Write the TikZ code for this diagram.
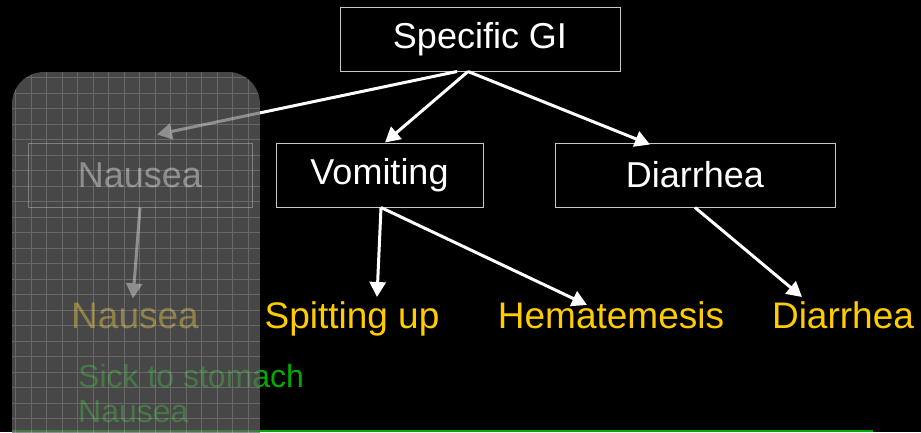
\documentclass[tikz,border=0pt]{standalone}
\usepackage{fontspec}
\setmainfont{Liberation Sans}
\usetikzlibrary{arrows.meta,calc}
\definecolor{leafyellow}{HTML}{FFCC00}
\definecolor{sickgreen}{HTML}{00AA00}
\definecolor{boxline}{HTML}{C8C8C8}
\begin{document}
\begin{tikzpicture}[x=1pt,y=-1pt,
  catbox/.style={draw=boxline,line width=1pt,fill=black,text=white,minimum height=64pt,inner sep=0pt,font=\fontsize{36}{40}\selectfont},
  leaf/.style={text=leafyellow,anchor=base,inner sep=2pt,font=\fontsize{37}{40}\selectfont},
  sick/.style={text=sickgreen,anchor=base west,inner sep=0pt,font=\fontsize{32}{36}\selectfont},
  conn/.style={draw=white,line width=3pt,-{Triangle[length=15pt,width=16pt]}}]
\fill[black] (0,0) rectangle (921,432);
\useasboundingbox (0,0) rectangle (921,432);
% boxes
\node[catbox,minimum width=280pt] (gi) at (480,39) {Specific GI};
\node[catbox,minimum width=224pt] (nau) at (140,175) {Nausea};
\node[catbox,minimum width=207pt] (vom) at (379.5,175) {Vomiting};
\node[catbox,minimum width=280pt] (dia) at (695,175) {Diarrhea};
% leaves
\node[leaf] (ln) at (135,328) {Nausea};
\node[leaf] (ls) at (352,328) {Spitting up};
\node[leaf] (lh) at (611,328) {Hematemesis};
\node[leaf] (ld) at (843,328) {Diarrhea};
\node[sick] (s1) at (78,387) {Sick to stomach};
\node[sick] (s2) at (78,422) {Nausea};
% connectors
\draw[conn] ([xshift=-23pt]gi.south) -- ([xshift=17pt,yshift=8pt]nau.north);
\draw[conn] ([xshift=-12pt]gi.south) -- ([xshift=5.5pt]vom.north);
\draw[conn] ([xshift=-12pt]gi.south) -- ([xshift=-45pt,yshift=-2pt]dia.north);
\draw[conn] (nau.south) -- ([xshift=-2pt,yshift=2pt]ln.north);
\draw[conn] ([xshift=1.5pt]vom.south) -- ([xshift=25pt,yshift=2pt]ls.north);
\draw[conn] ([xshift=1.5pt]vom.south) -- ([xshift=-24pt,yshift=-6pt]lh.north);
\draw[conn] (dia.south) -- ([xshift=-41pt,yshift=2pt]ld.north);
% bottom line
\draw[sickgreen,line width=1.5pt] (12,431) -- (873,431);
% grey gridded panel overlay
\begin{scope}
\clip[rounded corners=32pt] (12,520) -- (12,72) -- (260,72) -- (260,520) -- cycle;
\fill[fill=gray!78!black,opacity=0.72] (12,72) rectangle (260,520);
\draw[white,opacity=0.18,line width=0.8pt,step=15.5pt] (12,72) grid (260,520);
\end{scope}
\end{tikzpicture}
\end{document}
